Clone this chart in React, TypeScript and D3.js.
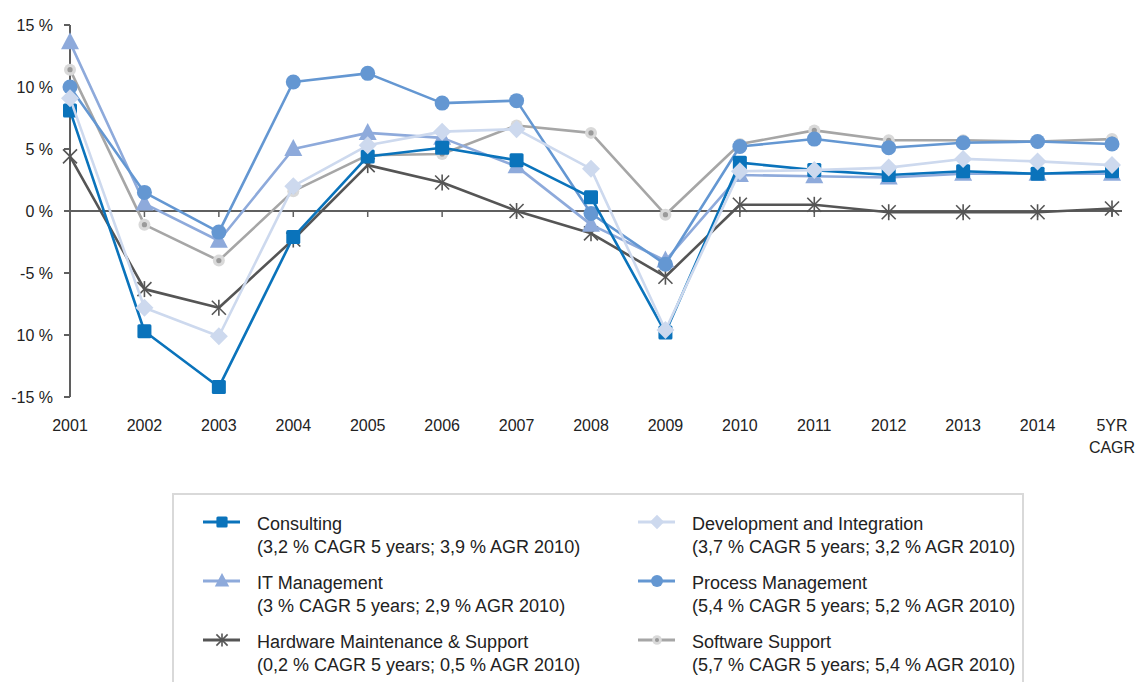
import React from "react";
import * as d3 from "d3";

const categories = ["2001","2002","2003","2004","2005","2006","2007","2008","2009","2010","2011","2012","2013","2014","5YR CAGR"];
const yTicks = [15, 10, 5, 0, -5, -10, -15];
const yTickLabels = ["15 %", "10 %", "5 %", "0 %", "-5 %", "10 %", "-15 %"];

const consulting = [8.1, -9.7, -14.2, -2.1, 4.4, 5.1, 4.1, 1.1, -9.8, 3.9, 3.3, 2.9, 3.2, 3.0, 3.2];
const devIntegration = [9.1, -7.8, -10.1, 2.0, 5.3, 6.4, 6.6, 3.4, -9.6, 3.2, 3.3, 3.5, 4.2, 4.0, 3.7];
const itManagement = [13.6, 0.6, -2.4, 5.0, 6.3, 5.9, 3.6, -1.1, -4.0, 2.9, 2.8, 2.7, 3.0, 3.0, 3.0];
const processMgmt = [10.0, 1.5, -1.7, 10.4, 11.1, 8.7, 8.9, -0.2, -4.3, 5.2, 5.8, 5.1, 5.5, 5.6, 5.4];
const hardware = [4.4, -6.3, -7.8, -2.3, 3.7, 2.3, 0.0, -1.8, -5.3, 0.5, 0.5, -0.1, -0.1, -0.1, 0.2];
const softwareSupport = [11.4, -1.1, -4.0, 1.6, 4.5, 4.6, 6.9, 6.3, -0.3, 5.4, 6.5, 5.7, 5.7, 5.6, 5.8];

const seriesNames = ["Consulting", "Development and Integration", "IT Management", "Process Management", "Hardware Maintenance & Support", "Software Support"];
const seriesNotes = [
  "(3,2 % CAGR 5 years; 3,9 % AGR 2010)",
  "(3,7 % CAGR 5 years; 3,2 % AGR 2010)",
  "(3 % CAGR 5 years; 2,9 % AGR 2010)",
  "(5,4 % CAGR 5 years; 5,2 % AGR 2010)",
  "(0,2 % CAGR 5 years; 0,5 % AGR 2010)",
  "(5,7 % CAGR 5 years; 5,4 % AGR 2010)",
];

type Marker = "square" | "diamond" | "triangle" | "circle" | "asterisk" | "dotcircle";
const series: { name: string; note: string; values: number[]; color: string; marker: Marker }[] = [
  { name: seriesNames[0], note: seriesNotes[0], values: consulting, color: "#0a73bb", marker: "square" },
  { name: seriesNames[1], note: seriesNotes[1], values: devIntegration, color: "#cdd9ee", marker: "diamond" },
  { name: seriesNames[2], note: seriesNotes[2], values: itManagement, color: "#8eaadb", marker: "triangle" },
  { name: seriesNames[3], note: seriesNotes[3], values: processMgmt, color: "#6497d2", marker: "circle" },
  { name: seriesNames[4], note: seriesNotes[4], values: hardware, color: "#555555", marker: "asterisk" },
  { name: seriesNames[5], note: seriesNotes[5], values: softwareSupport, color: "#a6a6a6", marker: "dotcircle" },
];
const drawOrder = [4, 5, 2, 3, 0, 1];

function MarkerShape({ type, color, x, y, s = 1 }: { type: Marker; color: string; x: number; y: number; s?: number }) {
  switch (type) {
    case "square":
      return <rect x={x - 7 * s} y={y - 7 * s} width={14 * s} height={14 * s} rx={1.5} fill={color} />;
    case "diamond":
      return <path d={`M${x},${y - 9 * s}L${x + 9 * s},${y}L${x},${y + 9 * s}L${x - 9 * s},${y}Z`} fill={color} />;
    case "triangle":
      return <path d={`M${x},${y - 10 * s}L${x + 9 * s},${y + 7 * s}L${x - 9 * s},${y + 7 * s}Z`} fill={color} />;
    case "circle":
      return <circle cx={x} cy={y} r={7.5 * s} fill={color} />;
    case "asterisk": {
      const r = 7 * s;
      return (
        <g stroke={color} strokeWidth={1.6}>
          <line x1={x - r} y1={y - r} x2={x + r} y2={y + r} />
          <line x1={x - r} y1={y + r} x2={x + r} y2={y - r} />
          <line x1={x} y1={y - r - 1} x2={x} y2={y + r + 1} />
        </g>
      );
    }
    case "dotcircle":
      return (
        <g>
          <circle cx={x} cy={y} r={6 * s} fill="#d9d9d9" />
          <circle cx={x} cy={y} r={2.6 * s} fill="#9a9a9a" />
        </g>
      );
  }
}

export default function App() {
  const width = 1142;
  const height = 682;
  const x = d3.scalePoint<string>().domain(categories).range([70, 1112]);
  const y = d3.scaleLinear().domain([-15, 15]).range([397, 25]);
  const line = d3.line<number>().x((_, i) => x(categories[i])!).y((d) => y(d));
  const axisColor = "#5f5f5f";
  const font = "Liberation Sans, Arial, Helvetica, sans-serif";

  const legendCols = [205, 640];
  const legendRows = [530, 589, 648];

  return (
    <svg width={width} height={height} style={{ position: "absolute", left: 0, top: 0 }} fontFamily={font}>
      {/* y axis */}
      <line x1={70} x2={70} y1={y(15)} y2={y(-15)} stroke={axisColor} strokeWidth={2} />
      {yTicks.map((t, i) => (
        <g key={t + "_" + i}>
          <line x1={64} x2={70} y1={y(t)} y2={y(t)} stroke={axisColor} strokeWidth={2} />
          <text x={53} y={y(t)} dy="0.35em" textAnchor="end" fontSize={16} fill="#222">
            {yTickLabels[i]}
          </text>
        </g>
      ))}
      {/* zero line */}
      <line x1={70} x2={1122} y1={y(0)} y2={y(0)} stroke={axisColor} strokeWidth={2} />
      {categories.map((c) => (
        <line key={c} x1={x(c)!} x2={x(c)!} y1={y(0)} y2={y(0) + 6} stroke={axisColor} strokeWidth={1.5} />
      ))}
      {/* x labels */}
      {categories.map((c) => {
        const parts = c.split(" ");
        const cx = x(c)!;
        return (
          <text key={c} x={cx} y={431} textAnchor="middle" fontSize={16} fill="#222">
            {parts.map((p, j) => (
              <tspan key={j} x={cx} dy={j === 0 ? 0 : 22}>{p}</tspan>
            ))}
          </text>
        );
      })}
      {/* series */}
      {drawOrder.map((si) => {
        const s = series[si];
        return (
          <g key={s.name}>
            <path d={line(s.values)!} fill="none" stroke={s.color} strokeWidth={2.6} strokeLinejoin="round" />
            {s.values.map((v, i) => (
              <MarkerShape key={i} type={s.marker} color={s.color} x={x(categories[i])!} y={y(v)} />
            ))}
          </g>
        );
      })}
      {/* legend */}
      <rect x={173} y={494} width={850} height={200} fill="white" stroke="#d9d9d9" strokeWidth={2} />
      {series.map((s, i) => {
        const lx = legendCols[i % 2];
        const ly = legendRows[Math.floor(i / 2)];
        const my = ly - 8;
        return (
          <g key={s.name}>
            <line x1={lx - 2} x2={lx + 35} y1={my} y2={my} stroke={s.color} strokeWidth={3} />
            <MarkerShape type={s.marker} color={s.color} x={lx + 17} y={my} s={0.8} />
            <text x={lx + 52} y={ly} fontSize={18} fill="#222">{s.name}</text>
            <text x={lx + 52} y={ly + 23} fontSize={18} fill="#222">{s.note}</text>
          </g>
        );
      })}
    </svg>
  );
}
